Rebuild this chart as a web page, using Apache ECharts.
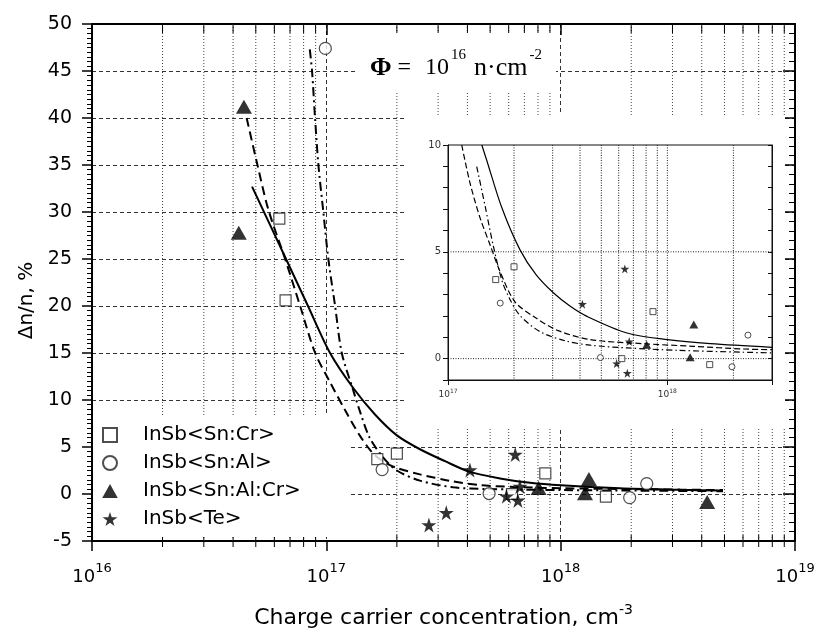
<!DOCTYPE html>
<html>
<head>
<meta charset="utf-8">
<script src="https://cdn.jsdelivr.net/npm/echarts@6/dist/echarts.min.js"></script>
<style>
  html, body { margin: 0; padding: 0; background: #fff; }
  #chart { width: 818px; height: 634px; }
</style>
</head>
<body>
<div id="chart"></div>
<script>
// x = charge carrier concentration (cm^-3), y = Δn/n (%)
const snCr   = [[6.3e16, 29.3], [6.7e16, 20.6], [1.65e17, 3.7], [2.0e17, 4.3], [6.2e17, 0.0], [8.6e17, 2.2], [1.56e18, -0.28]];
const snAl   = [[9.9e16, 47.4], [1.73e17, 2.6], [4.95e17, 0.05], [1.97e18, -0.38], [2.33e18, 1.1]];
const snAlCr = [[4.45e16, 41.2], [4.23e16, 27.8], [8.05e17, 0.65], [1.32e18, 1.6], [1.27e18, 0.07], [4.22e18, -0.84]];
const te     = [[2.74e17, -3.3], [3.25e17, -2.0], [4.1e17, 2.55], [6.4e17, 4.2], [5.87e17, -0.23], [6.57e17, -0.68], [6.7e17, 0.8]];

// curves of the main plot
const mainSolid = [[4.82e16, 32.7], [6.73e16, 25], [8.35e16, 20], [1.037e17, 15], [1.30e17, 11.3], [1.613e17, 8.46],
  [2.0e17, 6.24], [2.51e17, 4.76], [3.21e17, 3.49], [4.1e17, 2.35], [5.51e17, 1.66], [7.4e17, 1.19],
  [1.0e18, 0.92], [1.79e18, 0.61], [3.23e18, 0.45], [4.93e18, 0.36]];
const mainDash = [[4.57e16, 40.0], [5.05e16, 35.3], [5.65e16, 30.3], [6.67e16, 25], [7.73e16, 20], [8.96e16, 15],
  [1.037e17, 11.9], [1.20e17, 8.96], [1.39e17, 6.21], [1.57e17, 4.41], [1.75e17, 3.46], [2.0e17, 2.77],
  [2.51e17, 2.09], [3.37e17, 1.4], [4.53e17, 0.95], [6.3e17, 0.75], [1.0e18, 0.62], [2.4e18, 0.5], [4.93e18, 0.42]];
const mainDashDot = [[8.5e16, 47.3], [8.69e16, 45], [8.95e16, 40], [9.25e16, 35], [9.71e16, 30], [1.02e17, 25],
  [1.09e17, 20], [1.164e17, 15], [1.30e17, 11.1], [1.39e17, 8.82], [1.53e17, 6.0], [1.75e17, 3.88],
  [2.0e17, 2.5], [2.51e17, 1.42], [3.48e17, 0.71], [4.83e17, 0.53], [1.0e18, 0.42], [2.4e18, 0.35], [4.93e18, 0.3]];

// curves of the inset
const insetSolid = [[1.426e17, 10.0], [1.50e17, 9.3], [1.76e17, 7.06], [2.13e17, 5.09], [2.52e17, 3.93],
  [3.03e17, 3.07], [3.61e17, 2.45], [4.30e17, 1.98], [6.55e17, 1.2], [1.0e18, 0.89], [1.57e18, 0.70], [3.0e18, 0.53]];
const insetDash = [[1.155e17, 10.0], [1.26e17, 8.22], [1.40e17, 6.59], [1.555e17, 5.33], [1.728e17, 4.07],
  [2.02e17, 2.66], [2.50e17, 1.92], [3.18e17, 1.31], [4.45e17, 0.89], [7.77e17, 0.70], [1.315e18, 0.576],
  [2.22e18, 0.45], [3.0e18, 0.42]];
const insetDashDot = [[1.352e17, 8.99], [1.476e17, 7.15], [1.605e17, 5.33], [1.764e17, 3.64], [1.919e17, 2.76],
  [2.132e17, 2.01], [2.63e17, 1.26], [3.46e17, 0.82], [4.45e17, 0.63], [6.57e17, 0.50], [1.111e18, 0.39],
  [2.22e18, 0.30], [3.0e18, 0.27]];

const legendNames = ['InSb<Sn:Cr>', 'InSb<Sn:Al>', 'InSb<Sn:Al:Cr>', 'InSb<Te>'];

// log grid: 2..9 inside every decade
const mantissas = [2, 3, 4, 5, 6, 7, 8, 9];
const mainDecades = [1e16, 1e17, 1e18];
const minorMain = mainDecades.flatMap(d => mantissas.map(m => m * d));
const minorInset = mantissas.map(m => m * 1e17).concat([1e18, 2e18]);
const insetLevels = [0, 5];

const FONT = 'DejaVu Sans';
const SERIF = 'Liberation Serif';
const STAR = 'path://M50 0 L61.2 34.5 L97.6 34.5 L68.2 55.9 L79.4 90.5 L50 69.1 L20.6 90.5 L31.8 55.9 L2.4 34.5 L38.8 34.5 Z';
const SQUARE = 'path://M0 0 L10 0 L10 10 L0 10 Z';
const CIRCLE = 'path://M10 5 A5 5 0 1 1 0 5 A5 5 0 1 1 10 5 Z';
const TRIANGLE = 'path://M5 0 L10 9 L0 9 Z';

function powerLabel(value) {
  const e = Math.log10(value);
  if (Math.abs(e - Math.round(e)) > 1e-6) return '';
  return '{b|10}{s|' + Math.round(e) + '}';
}

const dashedGrid = {color: '#333', width: 1, type: [4, 3]};

// dotted vertical grid line at a minor decade value, plus short ticks on the frame
function renderMainMinor(params, api) {
  const cs = params.coordSys;
  const x = api.coord([api.value(0), api.value(1)])[0];
  const top = cs.y, bottom = cs.y + cs.height;
  return {
    type: 'group',
    children: [
      {type: 'line', shape: {x1: x, y1: top, x2: x, y2: bottom}, style: {stroke: '#444', lineWidth: 1, lineDash: [1, 2]}},
      {type: 'line', shape: {x1: x, y1: top, x2: x, y2: top + 9}, style: {stroke: '#000', lineWidth: 1}},
      {type: 'line', shape: {x1: x, y1: bottom - 6, x2: x, y2: bottom + 6}, style: {stroke: '#000', lineWidth: 1}}
    ]
  };
}

function renderInsetV(params, api) {
  const cs = params.coordSys;
  const x = api.coord([api.value(0), api.value(1)])[0];
  return {type: 'line', shape: {x1: x, y1: cs.y, x2: x, y2: cs.y + cs.height},
    style: {stroke: '#222', lineWidth: 1, lineDash: [1, 1.5]}};
}

function renderInsetH(params, api) {
  const cs = params.coordSys;
  const y = api.coord([api.value(0), api.value(1)])[1];
  return {type: 'line', shape: {x1: cs.x, y1: y, x2: cs.x + cs.width, y2: y},
    style: {stroke: '#222', lineWidth: 1, lineDash: [1, 1.5]}};
}

const chart = echarts.init(document.getElementById('chart'));

const option = {
  animation: false,
  backgroundColor: '#fff',
  title: {
    text: '{p|Φ}{t| = }{n|10}{s|16}{u|n·cm}{s|-2}',
    left: 370, top: 48, padding: 0, z: 12,
    textStyle: {
      rich: {
        p: {fontFamily: SERIF, fontWeight: 'bold', fontSize: 26, color: '#000', lineHeight: 40, verticalAlign: 'middle'},
        t: {fontFamily: SERIF, fontWeight: 'normal', fontSize: 24, color: '#000', lineHeight: 40, verticalAlign: 'middle'},
        n: {fontFamily: SERIF, fontWeight: 'normal', fontSize: 24, color: '#000', lineHeight: 40, verticalAlign: 'middle', padding: [0, 0, 0, 8]},
        u: {fontFamily: SERIF, fontWeight: 'normal', fontSize: 26, color: '#000', lineHeight: 40, verticalAlign: 'middle', padding: [0, 0, 0, 8]},
        s: {fontFamily: SERIF, fontWeight: 'normal', fontSize: 15, color: '#000', lineHeight: 14, verticalAlign: 'top', padding: [0, 0, 0, 2]}
      }
    }
  },
  legend: {
    orient: 'vertical', left: 102, top: 425, padding: 0,
    itemWidth: 56, itemHeight: 14, itemGap: 8, z: 12,
    selectedMode: false,
    textStyle: {fontFamily: FONT, fontSize: 20, color: '#000', lineHeight: 20},
    data: [
      {name: legendNames[0], icon: SQUARE},
      {name: legendNames[1], icon: CIRCLE},
      {name: legendNames[2], icon: TRIANGLE},
      {name: legendNames[3], icon: STAR}
    ]
  },
  graphic: {
    elements: [
      {type: 'rect', z: 5, silent: true, shape: {x: 357, y: 33, width: 199, height: 60}, style: {fill: '#fff'}},
      {type: 'rect', z: 5, silent: true, shape: {x: 407, y: 115, width: 378, height: 313}, style: {fill: '#fff'}},
      {type: 'rect', z: 5, silent: true, shape: {x: 93, y: 415, width: 255, height: 122}, style: {fill: '#fff'}}
    ]
  },
  grid: [
    {left: 92, top: 24, width: 703, height: 520},
    {left: 448, top: 145, width: 324, height: 235, show: true, borderColor: '#111', borderWidth: 1, z: 10}
  ],
  xAxis: [
    {
      type: 'log', logBase: 10, min: 1e16, max: 1e19, gridIndex: 0, position: 'bottom',
      name: '{a|Charge carrier concentration, cm}{s|-3}',
      nameLocation: 'middle', nameGap: 62,
      nameTextStyle: {
        rich: {
          a: {fontFamily: FONT, fontSize: 22, color: '#000', lineHeight: 30, verticalAlign: 'middle'},
          s: {fontFamily: FONT, fontSize: 14, color: '#000', lineHeight: 14, verticalAlign: 'top'}
        }
      },
      axisLine: {onZero: false, lineStyle: {color: '#000', width: 2}},
      axisTick: {length: 10, lineStyle: {color: '#000', width: 1.5}},
      axisLabel: {
        margin: 21, formatter: powerLabel,
        rich: {
          b: {fontFamily: FONT, fontSize: 18, color: '#000', lineHeight: 30, verticalAlign: 'middle'},
          s: {fontFamily: FONT, fontSize: 13, color: '#000', lineHeight: 12, verticalAlign: 'top'}
        }
      },
      splitLine: {show: true, lineStyle: dashedGrid}
    },
    {
      type: 'log', logBase: 10, min: 1e16, max: 1e19, gridIndex: 0, position: 'top',
      axisLine: {onZero: false, lineStyle: {color: '#000', width: 2}},
      axisTick: {inside: true, length: 11, lineStyle: {color: '#000', width: 1.5}},
      axisLabel: {show: false},
      splitLine: {show: false}
    },
    {
      type: 'log', logBase: 10, min: 1e17, max: 3e18, gridIndex: 1, position: 'bottom', z: 10,
      axisLine: {onZero: false, lineStyle: {color: '#111', width: 1}},
      axisTick: {length: 5, lineStyle: {color: '#111'}},
      axisLabel: {
        margin: 8, formatter: powerLabel,
        rich: {
          b: {fontFamily: FONT, fontSize: 9, color: '#333', lineHeight: 14, verticalAlign: 'middle'},
          s: {fontFamily: FONT, fontSize: 6, color: '#333', lineHeight: 6, verticalAlign: 'top'}
        }
      },
      splitLine: {show: false}
    }
  ],
  yAxis: [
    {
      type: 'value', min: -5, max: 50, interval: 5, gridIndex: 0, position: 'left',
      name: 'Δn/n, %', nameLocation: 'middle', nameGap: 52,
      nameTextStyle: {fontFamily: FONT, fontSize: 20, color: '#000', padding: [0, 36, 0, 0]},
      axisLine: {show: true, onZero: false, lineStyle: {color: '#000', width: 2}},
      axisTick: {show: true, length: 10, lineStyle: {color: '#000', width: 1.5}},
      minorTick: {show: true, splitNumber: 10, length: 5, lineStyle: {color: '#000', width: 1}},
      axisLabel: {margin: 20, fontFamily: FONT, fontSize: 19, color: '#000'},
      splitLine: {show: true, lineStyle: dashedGrid}
    },
    {
      type: 'value', min: -5, max: 50, interval: 5, gridIndex: 0, position: 'right',
      axisLine: {show: true, onZero: false, lineStyle: {color: '#000', width: 2}},
      axisTick: {show: true, inside: true, length: 12, lineStyle: {color: '#000', width: 1.5}},
      minorTick: {show: true, splitNumber: 5, length: 6, lineStyle: {color: '#000', width: 1}},
      axisLabel: {show: false},
      splitLine: {show: false}
    },
    {
      type: 'value', min: -1, max: 10, interval: 1, gridIndex: 1, position: 'left', z: 10,
      axisLine: {show: true, onZero: false, lineStyle: {color: '#111', width: 1}},
      axisTick: {show: true, length: 5, lineStyle: {color: '#111'}},
      axisLabel: {
        margin: 7, fontFamily: FONT, fontSize: 10, color: '#333',
        formatter: v => (v % 5 === 0 ? String(v) : '')
      },
      splitLine: {show: false}
    },
    {
      type: 'value', min: -1, max: 10, interval: 1, gridIndex: 1, position: 'right', z: 10,
      axisLine: {show: true, onZero: false, lineStyle: {color: '#111', width: 1}},
      axisTick: {show: true, inside: true, length: 4, lineStyle: {color: '#111'}},
      axisLabel: {show: false},
      splitLine: {show: false}
    }
  ],
  series: [
    {
      type: 'custom', xAxisIndex: 0, yAxisIndex: 0, z: 1, silent: true,
      data: minorMain.map(v => [v, -5]),
      renderItem: renderMainMinor
    },
    {
      name: 'fit-solid', type: 'line', data: mainSolid, xAxisIndex: 0, yAxisIndex: 0, z: 6,
      showSymbol: false, smooth: 0.3,
      lineStyle: {color: '#000', width: 2, type: 'solid'}
    },
    {
      name: 'fit-dash', type: 'line', data: mainDash, xAxisIndex: 0, yAxisIndex: 0, z: 6,
      showSymbol: false, smooth: 0.3,
      lineStyle: {color: '#000', width: 2, type: [9, 5]}
    },
    {
      name: 'fit-dashdot', type: 'line', data: mainDashDot, xAxisIndex: 0, yAxisIndex: 0, z: 6,
      showSymbol: false, smooth: 0.3,
      lineStyle: {color: '#000', width: 2, type: [9, 4, 2, 4]}
    },
    {
      name: legendNames[0], type: 'scatter', data: snCr, xAxisIndex: 0, yAxisIndex: 0, z: 7,
      symbol: 'rect', symbolSize: 11,
      itemStyle: {color: '#fff', borderColor: '#222', borderWidth: 1.2}
    },
    {
      name: legendNames[1], type: 'scatter', data: snAl, xAxisIndex: 0, yAxisIndex: 0, z: 7,
      symbol: 'circle', symbolSize: 12,
      itemStyle: {color: '#fff', borderColor: '#222', borderWidth: 1.2}
    },
    {
      name: legendNames[2], type: 'scatter', data: snAlCr, xAxisIndex: 0, yAxisIndex: 0, z: 7,
      symbol: 'triangle', symbolSize: [16, 14],
      itemStyle: {color: '#000'}
    },
    {
      name: legendNames[3], type: 'scatter', data: te, xAxisIndex: 0, yAxisIndex: 0, z: 7,
      symbol: STAR, symbolSize: 15,
      itemStyle: {color: '#000'}
    },

    // inset
    {
      type: 'custom', xAxisIndex: 2, yAxisIndex: 2, z: 10, silent: true,
      data: minorInset.map(v => [v, -1]),
      renderItem: renderInsetV
    },
    {
      type: 'custom', xAxisIndex: 2, yAxisIndex: 2, z: 10, silent: true,
      data: insetLevels.map(v => [1e17, v]),
      renderItem: renderInsetH
    },
    {
      name: 'inset-solid', type: 'line', data: insetSolid, xAxisIndex: 2, yAxisIndex: 2, z: 11,
      showSymbol: false, smooth: 0.3,
      lineStyle: {color: '#000', width: 1.2, type: 'solid'}
    },
    {
      name: 'inset-dash', type: 'line', data: insetDash, xAxisIndex: 2, yAxisIndex: 2, z: 11,
      showSymbol: false, smooth: 0.3,
      lineStyle: {color: '#000', width: 1.2, type: [6, 3]}
    },
    {
      name: 'inset-dashdot', type: 'line', data: insetDashDot, xAxisIndex: 2, yAxisIndex: 2, z: 11,
      showSymbol: false, smooth: 0.3,
      lineStyle: {color: '#000', width: 1.2, type: [6, 3, 1.5, 3]}
    },
    {
      name: 'inset-sq', type: 'scatter', data: snCr, xAxisIndex: 2, yAxisIndex: 2, z: 12,
      symbol: 'rect', symbolSize: 6,
      itemStyle: {color: '#fff', borderColor: '#222', borderWidth: 1}
    },
    {
      name: 'inset-ci', type: 'scatter', data: snAl, xAxisIndex: 2, yAxisIndex: 2, z: 12,
      symbol: 'circle', symbolSize: 6,
      itemStyle: {color: '#fff', borderColor: '#222', borderWidth: 1}
    },
    {
      name: 'inset-tr', type: 'scatter', data: snAlCr, xAxisIndex: 2, yAxisIndex: 2, z: 12,
      symbol: 'triangle', symbolSize: [9, 8],
      itemStyle: {color: '#000'}
    },
    {
      name: 'inset-st', type: 'scatter', data: te, xAxisIndex: 2, yAxisIndex: 2, z: 12,
      symbol: STAR, symbolSize: 9,
      itemStyle: {color: '#000'}
    }
  ]
};

chart.setOption(option);
</script>
</body>
</html>
